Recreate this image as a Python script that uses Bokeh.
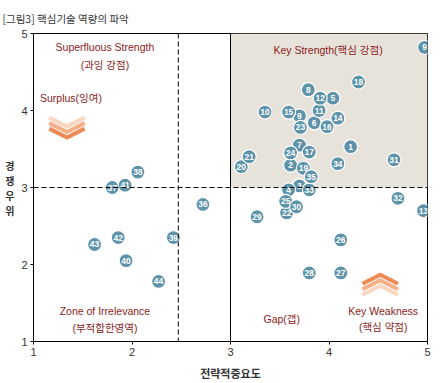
from bokeh.plotting import figure
from bokeh.models import Range1d, Span
from bokeh.core.properties import value
from bokeh.embed import file_html
from bokeh.resources import INLINE

# ---- data ----
ids = ["1", "2", "3", "4", "5", "6", "7", "8", "9", "9", "10", "11", "12", "13", "14", "15",
       "16", "17", "18", "19", "20", "21", "22", "23", "24", "25", "26", "27", "28", "29",
       "30", "31", "32", "33", "34", "35", "36", "37", "38", "39", "40", "41", "42", "43", "44"]
importance = [4.22, 3.61, 3.70, 3.59, 4.04, 3.85, 3.70, 3.79, 4.97, 3.70, 3.35, 3.90, 3.91, 4.96, 4.09, 3.59,
              3.98, 3.80, 4.30, 3.74, 3.11, 3.19, 3.57, 3.71, 3.61, 3.56, 4.12, 4.12, 3.80, 3.27,
              3.67, 4.66, 4.70, 3.80, 4.09, 3.82, 2.72, 1.80, 2.06, 2.42, 1.94, 1.93, 1.86, 1.62, 2.27]
advantage = [3.53, 3.29, 3.02, 2.97, 4.16, 3.84, 3.55, 4.27, 4.82, 3.93, 3.98, 4.00, 4.16, 2.70, 3.90, 3.98,
             3.79, 3.46, 4.37, 3.25, 3.27, 3.40, 2.67, 3.78, 3.45, 2.82, 2.32, 1.89, 1.89, 2.62,
             2.75, 3.36, 2.86, 2.97, 3.31, 3.14, 2.78, 3.00, 3.20, 2.35, 2.05, 3.03, 2.35, 2.26, 1.78]
ticks = [1, 2, 3, 4, 5]
x_threshold = 2.47
y_threshold = 3
key_box = [3, 5, 3, 5]  # left, right, bottom, top

title_text = "[그림3] 핵심기술 역량의 파악"
x_label = "전략적중요도"
y_label = "경\n쟁\n우\n위"

zone_text = ["Superfluous Strength", "(과잉 강점)", "Surplus(잉여)", "Key Strength(핵심 강점)",
             "Zone of Irrelevance", "(부적합한영역)", "Gap(갭)", "Key Weakness", "(핵심 약점)"]
zone_x = [1.725, 1.725, 1.38, 3.99, 1.725, 1.725, 3.52, 4.55, 4.55]
zone_y = [4.83, 4.59, 4.16, 4.79, 1.39, 1.18, 1.29, 1.39, 1.19]

# chevrons (decorative arrows)
chev_colors_down = ["#fbd6c0", "#f5b088", "#ed8a55"]
chev_down_cx, chev_down_hw = 1.34, 0.18
chev_down_arm = [3.907, 3.836, 3.765]
chev_down_tip = [3.791, 3.720, 3.649]
chev_colors_up = ["#ed8a55", "#f5b088", "#fbd6c0"]
chev_up_cx, chev_up_hw = 4.52, 0.18
chev_up_tip = [1.866, 1.795, 1.724]
chev_up_arm = [1.749, 1.678, 1.607]

FONT_LAT = "Liberation Sans Narrow, Liberation Sans, Noto Sans CJK KR"
FONT_KR = "Noto Sans CJK KR"

p = figure(width=440, height=383, x_range=Range1d(1, 5), y_range=Range1d(1, 5),
           output_backend="svg", toolbar_location=None,
           min_border_left=33, min_border_right=13, min_border_top=33, min_border_bottom=41)
p.grid.visible = False
p.outline_line_color = "black"
p.outline_line_width = 1

p.title.text = title_text
p.title.text_font = FONT_KR
p.title.text_font_size = "10.5px"
p.title.text_font_style = "normal"
p.title.text_color = "#333333"
p.title.align = "left"
p.title.offset = -31
p.title.standoff = 16

p.quad(left=[key_box[0]], right=[key_box[1]], bottom=[key_box[2]], top=[key_box[3]],
       fill_color="#e7e3db", line_color=None, level="underlay")

p.add_layout(Span(location=3, dimension="height", line_color="black", line_width=1))
p.add_layout(Span(location=y_threshold, dimension="width", line_color="black", line_width=1, line_dash="5 3"))
p.add_layout(Span(location=x_threshold, dimension="height", line_color="black", line_width=1, line_dash="5 3"))

for ax in (p.xaxis, p.yaxis):
    ax.ticker = ticks
    ax.major_label_text_font_size = "11px"
    ax.major_label_text_color = "#333333"
    ax.major_label_text_font = FONT_LAT
    ax.major_tick_in = 0
    ax.major_tick_out = 3
    ax.minor_tick_line_color = None
    ax.axis_line_color = "black"
    ax.major_tick_line_color = "black"
    ax.axis_label_text_font = FONT_KR
    ax.axis_label_text_font_style = "bold"
    ax.axis_label_text_color = "#333333"
p.xaxis.major_label_standoff = 3
p.yaxis.major_label_standoff = 3

p.xaxis.axis_label = x_label
p.xaxis.axis_label_text_font_size = "11px"
p.xaxis.axis_label_standoff = 6

p.yaxis.axis_label = y_label
p.yaxis.axis_label_text_font_size = "10px"
p.yaxis.axis_label_text_line_height = 1.0
p.yaxis.axis_label_orientation = "horizontal"
p.yaxis.axis_label_standoff = 4

# chevrons
for i in range(3):
    p.line([chev_down_cx - chev_down_hw, chev_down_cx, chev_down_cx + chev_down_hw],
           [chev_down_arm[i], chev_down_tip[i], chev_down_arm[i]],
           line_color=chev_colors_down[i], line_width=4, line_join="miter")
for i in range(3):
    p.line([chev_up_cx - chev_up_hw, chev_up_cx, chev_up_cx + chev_up_hw],
           [chev_up_arm[i], chev_up_tip[i], chev_up_arm[i]],
           line_color=chev_colors_up[i], line_width=4, line_join="miter")

p.text(x=zone_x, y=zone_y, text=zone_text, text_color="#8b1c1c", text_font=value(FONT_LAT),
       text_font_size="10.5px", text_align="center", text_baseline="middle")

p.scatter(x=importance, y=advantage, size=14, fill_color="#5e93aa", line_color="white", line_width=1.2)
p.text(x=importance, y=advantage, text=ids, text_color="white", text_font=value(FONT_LAT),
       text_font_size="8.5px", text_font_style="bold", text_align="center", text_baseline="middle")

open("out.html", "w").write(file_html(p, INLINE))
